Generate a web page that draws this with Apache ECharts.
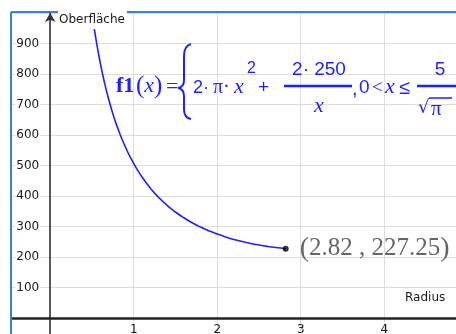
<!DOCTYPE html>
<html>
<head>
<meta charset="utf-8">
<script src="https://cdn.jsdelivr.net/npm/echarts@6/dist/echarts.min.js"></script>
<style>
html,body{margin:0;padding:0;background:#fff;}
#chart{width:456px;height:334px;}
</style>
</head>
<body>
<div id="chart"></div>
<script>
// Curve samples (Radius -> Oberfläche)
const radius = [0.5, 0.52, 0.55, 0.6, 0.65, 0.7, 0.75, 0.8, 0.9, 1.0, 1.1, 1.2, 1.3, 1.4, 1.5, 1.6, 1.7, 1.8, 1.9, 2.0, 2.1, 2.2, 2.3, 2.4, 2.5, 2.6, 2.7, 2.82];
const surface = [1001.6, 963.2, 911.0, 835.6, 771.9, 717.4, 670.2, 629.0, 560.6, 506.3, 462.1, 425.7, 395.2, 369.5, 347.5, 328.6, 312.3, 298.1, 285.8, 275.1, 265.8, 257.7, 250.6, 244.5, 239.3, 234.8, 231.0, 227.25];
const endPoint = [2.82, 227.25];
const xTickLabels = ['1', '2', '3', '4'];
const yTickLabels = ['100', '200', '300', '400', '500', '600', '700', '800', '900'];
const yAxisName = 'Oberfläche';
const xAxisName = 'Radius';

const curve = radius.map((r, i) => [r, surface[i]]);
const BLUE = '#1f1fff';

function seg(type, shape) {
  return {type: type, z: 102, shape: shape, style: {stroke: BLUE, lineWidth: 2, fill: null}};
}
function txt(x, y, text, font, extra) {
  return {type: 'text', x: x, y: y, z: 102, style: Object.assign({text: text, font: font, fill: BLUE, verticalAlign: 'middle'}, extra || {})};
}

const chart = echarts.init(document.getElementById('chart'), null, {renderer: 'canvas'});
chart.setOption({
  animation: false,
  backgroundColor: '#fff',
  grid: {left: -33.3, right: -11.7, top: 13, bottom: -14.5, containLabel: false, outerBoundsMode: 'none'},
  xAxis: {
    type: 'value', min: -1, max: 5, interval: 1, position: 'bottom', offset: -30.5,
    axisLine: {onZero: false, lineStyle: {color: '#222', width: 2.5}},
    axisTick: {show: false},
    axisLabel: {
      margin: 6, color: '#1a1a1a', fontSize: 12, fontFamily: 'DejaVu Sans',
      formatter: v => xTickLabels.includes(String(v)) ? String(v) : ''
    },
    splitLine: {show: true, lineStyle: {color: '#dcdcdc', width: 1}}
  },
  yAxis: {
    type: 'value', min: -100, max: 1000, interval: 100, position: 'left', offset: -83.5,
    axisLine: {onZero: false, symbol: ['none', 'arrow'], symbolSize: [8, 9], symbolOffset: [0, 0],
      lineStyle: {color: '#333', width: 1.6}},
    axisTick: {show: false},
    axisLabel: {
      margin: 10, color: '#1a1a1a', fontSize: 12, fontFamily: 'DejaVu Sans',
      formatter: v => yTickLabels.includes(String(v)) ? '{b|' + v + '}' : '',
      rich: {b: {backgroundColor: '#fff', padding: [1, 1, 1, 1], color: '#1a1a1a', fontSize: 12, fontFamily: 'DejaVu Sans'}}
    },
    splitLine: {show: true, lineStyle: {color: '#dcdcdc', width: 1}}
  },
  series: [
    {
      type: 'line', data: curve, smooth: true, showSymbol: false, clip: true,
      lineStyle: {color: BLUE, width: 1.6}, z: 3
    },
    {
      type: 'scatter', data: [endPoint], symbol: 'circle', symbolSize: 6,
      itemStyle: {color: '#000'}, z: 4,
      label: {
        show: true, position: 'right', distance: 11,
        formatter: p => '{p|(}{t|' + p.value[0].toFixed(2) + ' , ' + p.value[1].toFixed(2) + '}{p|)}',
        rich: {
          p: {fontSize: 28, fontFamily: 'Liberation Serif', color: '#404040'},
          t: {fontSize: 25, fontFamily: 'Liberation Serif', color: '#404040'}
        }
      }
    }
  ],
  graphic: [
    {type: 'rect', shape: {x: 0, y: 0, width: 11, height: 334}, style: {fill: '#fff'}, z: 100},
    {type: 'rect', shape: {x: 0, y: 0, width: 456, height: 12}, style: {fill: '#fff'}, z: 100},
    {type: 'line', shape: {x1: 11, y1: 12, x2: 456, y2: 12}, style: {stroke: '#3d7fd9', lineWidth: 2}, z: 101},
    {type: 'line', shape: {x1: 11, y1: 12, x2: 11, y2: 334}, style: {stroke: '#3d7fd9', lineWidth: 2}, z: 101},
    {type: 'text', x: 58, y: 20, z: 102, style: {text: yAxisName, font: '12px "DejaVu Sans"', fill: '#1a1a1a',
      verticalAlign: 'middle', backgroundColor: '#fff', padding: [2, 2, 4, 1]}},
    {type: 'text', x: 405, y: 298, z: 102, style: {text: xAxisName, font: '12px "DejaVu Sans"', fill: '#1a1a1a',
      verticalAlign: 'middle'}},
    // formula
    txt(116, 86, 'f1', 'bold 22px "Liberation Serif"'),
    {type: 'text', x: 136, y: 86, z: 102, style: {
      text: '{p|(}{i|x}{p|)}', verticalAlign: 'middle', fill: BLUE,
      rich: {p: {fontSize: 25, fontFamily: 'Liberation Serif', color: BLUE}, i: {fontSize: 22, fontStyle: 'italic', fontFamily: 'Liberation Serif', color: BLUE}}}},
    txt(166, 87, '=', '22px "Liberation Serif"'),
    seg('bezierCurve', {x1: 191, y1: 44, x2: 184, y2: 56, cpx1: 184, cpy1: 46}),
    seg('line', {x1: 184, y1: 56, x2: 184, y2: 80}),
    seg('bezierCurve', {x1: 184, y1: 80, x2: 178, y2: 88, cpx1: 184, cpy1: 87}),
    seg('bezierCurve', {x1: 178, y1: 88, x2: 184, y2: 96, cpx1: 184, cpy1: 89}),
    seg('line', {x1: 184, y1: 96, x2: 184, y2: 109}),
    seg('bezierCurve', {x1: 184, y1: 109, x2: 191, y2: 119, cpx1: 184, cpy1: 118}),
    txt(193, 88, '2·', '18px "Liberation Sans"'),
    txt(213, 88, 'π·', '20px "Liberation Serif"'),
    txt(234, 87, 'x', 'italic 22px "Liberation Serif"'),
    txt(247, 69, '2', '16px "Liberation Sans"'),
    txt(258, 88, '+', '19px "Liberation Sans"'),
    txt(319, 70, '2· 250', '19px "Liberation Sans"', {align: 'center'}),
    {type: 'line', z: 102, shape: {x1: 284, y1: 86, x2: 352, y2: 86}, style: {stroke: BLUE, lineWidth: 2.5}},
    txt(319, 106, 'x', 'italic 22px "Liberation Serif"', {align: 'center'}),
    txt(352, 89, ',', '20px "Liberation Sans"'),
    txt(359, 88, '0', '19px "Liberation Sans"'),
    txt(372, 88, '<', '19px "Liberation Serif"'),
    txt(385, 87, 'x', 'italic 22px "Liberation Serif"'),
    txt(399, 88, '≤', '20px "Liberation Sans"'),
    txt(440, 70, '5', '19px "Liberation Sans"', {align: 'center'}),
    {type: 'line', z: 102, shape: {x1: 417, y1: 86, x2: 456, y2: 86}, style: {stroke: BLUE, lineWidth: 2.5}},
    txt(418, 108, '√', '18px "DejaVu Sans"'),
    txt(431, 109, 'π', '21px "Liberation Serif"'),
    {type: 'line', z: 102, shape: {x1: 429, y1: 98, x2: 452, y2: 98}, style: {stroke: BLUE, lineWidth: 1.5}}
  ]
});
</script>
</body>
</html>
